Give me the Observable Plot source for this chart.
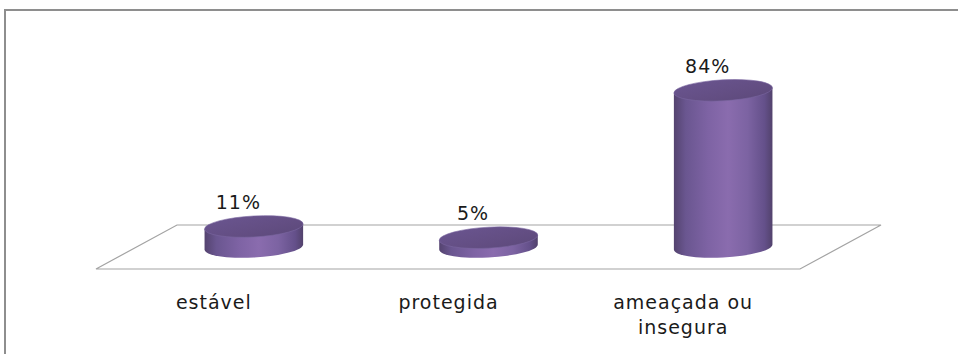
<!DOCTYPE html>
<html>
<head>
<meta charset="utf-8">
<script src="https://cdn.jsdelivr.net/npm/d3@7"></script>
<script src="https://cdn.jsdelivr.net/npm/@observablehq/plot@0.6"></script>
<style>
  html, body { margin: 0; padding: 0; background: #fff; overflow: hidden; }
  #wrap { position: relative; width: 958px; height: 354px; overflow: hidden; }
  #border { position: absolute; left: 4px; top: 9px; width: 1000px; height: 400px;
            border-top: 2px solid #8e8e8e; border-left: 2px solid #8e8e8e; box-sizing: border-box; }
  #chart { position: absolute; left: 0; top: 0; }
</style>
</head>
<body>
<div id="wrap"><div id="border"></div><div id="chart"></div></div>
<script>
// Situação das espécies (percentagem)
const categories = ["estável", "protegida", "ameaçada ou\ninsegura"];
const values = [11, 5, 84];

const rows = categories.map((c, i) => ({i, c, v: values[i]}));

// 3D look: offset of the floor's back edge and of the cylinders' middle plane
const depthX = 81, depthY = -44;
const midX = depthX / 2, midY = depthY / 2;
const halfWidth = 0.21; // cylinder radius, in category units

const font = "'DejaVu Sans', Verdana, sans-serif";

function defs() {
  const g = d3.create("svg:defs");
  const body = g.append("linearGradient").attr("id", "cylBody").attr("x1", 0).attr("x2", 1).attr("y1", 0).attr("y2", 0);
  [[0, "#54436f"], [0.12, "#6a5690"], [0.35, "#7e63a4"], [0.55, "#8a6cae"], [0.75, "#7c63a2"], [0.92, "#64508a"], [1, "#52426c"]]
    .forEach(([o, c]) => body.append("stop").attr("offset", o).attr("stop-color", c));
  const top = g.append("linearGradient").attr("id", "cylTop").attr("x1", 0).attr("x2", 1).attr("y1", 0).attr("y2", 1);
  [[0, "#6a5590"], [0.6, "#634e83"], [1, "#5c497a"]]
    .forEach(([o, c]) => top.append("stop").attr("offset", o).attr("stop-color", c));
  return g.node();
}

// Floor of the 3D plot: parallelogram between the category edges at zero
function floor(index, {x, y}) {
  const x0 = x(-0.5), x1 = x(2.5), y0 = y(0);
  const pts = [[x0, y0], [x1, y0], [x1 + depthX, y0 + depthY], [x0 + depthX, y0 + depthY]];
  return d3.create("svg:path")
    .attr("d", "M" + pts.join("L") + "Z")
    .attr("fill", "none")
    .attr("stroke", "#a3a3a3")
    .attr("stroke-width", 1.2)
    .node();
}

// Cylinders drawn from the x/y scales
function cylinders(index, {x, y}) {
  const g = d3.create("svg:g");
  for (const d of rows) {
    const cx = x(d.i) + midX;
    const rx = (x(d.i + halfWidth) - x(d.i - halfWidth)) / 2;
    const ry = 10.5;
    const yb = y(0) + midY;
    const yt = y(d.v) + midY;
    const c = g.append("g").attr("transform", `translate(${cx},0) skewY(-3) translate(${-cx},0)`);
    c.append("path")
      .attr("d", `M${cx - rx},${yt}L${cx - rx},${yb}A${rx},${ry} 0 0 0 ${cx + rx},${yb}L${cx + rx},${yt}Z`)
      .attr("fill", "url(#cylBody)");
    c.append("ellipse")
      .attr("cx", cx).attr("cy", yt).attr("rx", rx).attr("ry", ry)
      .attr("fill", "url(#cylTop)")
      .attr("stroke", "#7a66a0").attr("stroke-width", 0.6);
  }
  return g.node();
}

const chart = Plot.plot({
  width: 958,
  height: 354,
  marginLeft: 96,
  marginRight: 158,
  marginTop: 82.5,
  marginBottom: 85,
  style: {fontFamily: font, fontSize: "19px", color: "#1a1a1a", background: "transparent", letterSpacing: "1px"},
  x: {type: "linear", domain: [-0.5, 2.5]},
  y: {domain: [0, 100], axis: null},
  marks: [
    defs,
    floor,
    cylinders,
    Plot.axisX({
      ticks: categories.map((c, i) => i),
      tickFormat: i => categories[i],
      tickSize: 0,
      tickPadding: 22,
      lineHeight: 1.3,
      fontSize: 19,
      fill: "#1a1a1a",
      label: null
    }),
    Plot.text(rows, {
      x: "i",
      y: "v",
      text: d => d.v + "%",
      dx: midX - 16,
      dy: midY - 24,
      fontSize: 19,
      fill: "#1a1a1a"
    })
  ]
});

document.getElementById("chart").appendChild(chart);
</script>
</body>
</html>
